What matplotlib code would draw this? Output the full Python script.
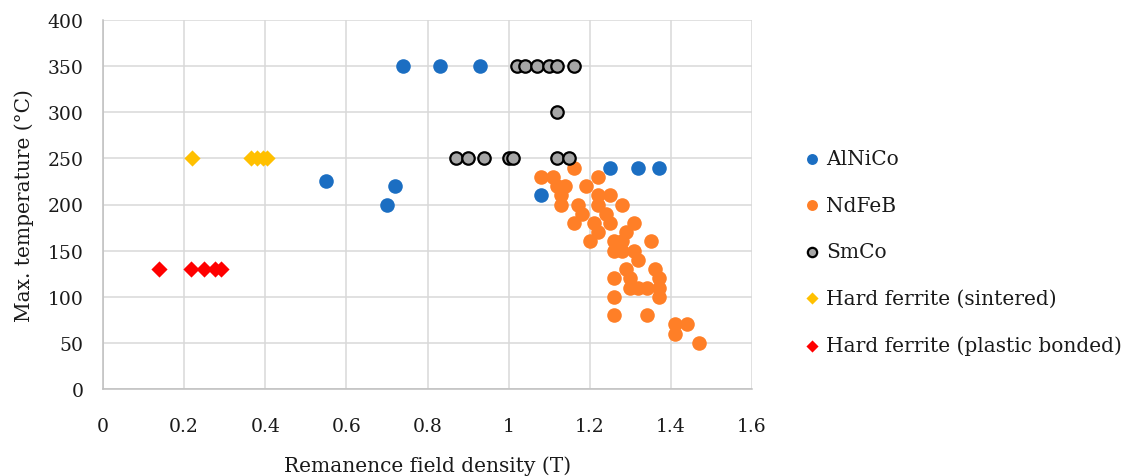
import matplotlib
matplotlib.use("Agg")
import matplotlib.pyplot as plt
from matplotlib.ticker import FuncFormatter

# Remanence (T) and maximum operating temperature (°C) per magnet family
alnico_b = [0.55, 0.70, 0.72, 0.74, 0.83, 0.93, 1.08, 1.25, 1.32, 1.37]
alnico_t = [225, 200, 220, 350, 350, 350, 210, 240, 240, 240]

ndfeb_b = [1.16, 1.08, 1.11, 1.22, 1.12, 1.14, 1.19, 1.13, 1.22, 1.25,
           1.13, 1.17, 1.22, 1.28, 1.18, 1.24, 1.16, 1.21, 1.25, 1.31,
           1.22, 1.29, 1.20, 1.26, 1.28, 1.35, 1.26, 1.28, 1.31, 1.32,
           1.29, 1.36, 1.26, 1.30, 1.37, 1.30, 1.32, 1.34, 1.37, 1.26,
           1.37, 1.26, 1.34, 1.41, 1.44, 1.41, 1.47]
ndfeb_t = [240, 230, 230, 230, 220, 220, 220, 210, 210, 210,
           200, 200, 200, 200, 190, 190, 180, 180, 180, 180,
           170, 170, 160, 160, 160, 160, 150, 150, 150, 140,
           130, 130, 120, 120, 120, 110, 110, 110, 110, 100,
           100, 80, 80, 70, 70, 60, 50]

smco_b = [1.02, 1.04, 1.07, 1.10, 1.12, 1.16, 1.12,
          0.87, 0.90, 0.94, 1.00, 1.01, 1.12, 1.15]
smco_t = [350, 350, 350, 350, 350, 350, 300,
          250, 250, 250, 250, 250, 250, 250]

sintered_b = [0.22, 0.365, 0.38, 0.395, 0.405]
sintered_t = [250, 250, 250, 250, 250]

bonded_b = [0.137, 0.216, 0.25, 0.276, 0.29]
bonded_t = [130, 130, 130, 130, 130]

x_ticks = [0, 0.2, 0.4, 0.6, 0.8, 1.0, 1.2, 1.4, 1.6]
y_ticks = [0, 50, 100, 150, 200, 250, 300, 350, 400]

plt.rcParams['font.family'] = ['DejaVu Serif']
FS = 14.5
TICK_FS = 13.5
TEXT_COLOR = '#1A1A1A'

fig = plt.figure(figsize=(11.28, 4.77), dpi=100)
ax = fig.add_axes([103 / 1128, 1 - 390 / 477, 649 / 1128, 369 / 477])

ax.scatter(ndfeb_b, ndfeb_t, s=110, color='#FF7F27', linewidths=0,
           label='NdFeB', zorder=3)
ax.scatter(alnico_b, alnico_t, s=110, color='#1B6EC2', linewidths=0,
           label='AlNiCo', zorder=4)
ax.scatter(smco_b, smco_t, s=80, color='#A6A6A6', edgecolors='black',
           linewidths=1.6, label='SmCo', zorder=5)
ax.scatter(sintered_b, sintered_t, s=68, marker='D', color='#FFC000',
           linewidths=0, label='Hard ferrite (sintered)', zorder=5)
ax.scatter(bonded_b, bonded_t, s=68, marker='D', color='#FF0000',
           linewidths=0, label='Hard ferrite (plastic bonded)', zorder=5)

ax.set_xlim(0, 1.6)
ax.set_ylim(0, 400)
ax.set_xticks(x_ticks)
ax.set_yticks(y_ticks)
ax.xaxis.set_major_formatter(FuncFormatter(lambda v, p: f"{v:g}"))
ax.grid(True, color='#D9D9D9', linewidth=1.1, zorder=0)
ax.set_axisbelow(True)
for side in ('top', 'right'):
    ax.spines[side].set_visible(False)
for side in ('left', 'bottom'):
    ax.spines[side].set_color('#BFBFBF')
    ax.spines[side].set_linewidth(1.1)

ax.tick_params(axis='x', length=0, pad=20, labelsize=TICK_FS,
               labelcolor=TEXT_COLOR)
ax.tick_params(axis='y', length=0, pad=14, labelsize=TICK_FS,
               labelcolor=TEXT_COLOR)

ax.set_xlabel('Remanence field density (T)', fontsize=FS, labelpad=15,
              color=TEXT_COLOR)
ax.set_ylabel('Max. temperature (°C)', fontsize=FS, labelpad=10,
              color=TEXT_COLOR)

handles, labels = ax.get_legend_handles_labels()
order = [1, 0, 2, 3, 4]
leg = fig.legend([handles[i] for i in order], [labels[i] for i in order],
                 loc='center left', bbox_to_anchor=(806 / 1128, 1 - 253 / 477),
                 frameon=False, fontsize=FS, handlelength=0.6,
                 handletextpad=0.4, labelspacing=1.37, borderpad=0,
                 borderaxespad=0, markerscale=0.75)
for t in leg.get_texts():
    t.set_color(TEXT_COLOR)

fig.savefig('out.png', dpi=100)
